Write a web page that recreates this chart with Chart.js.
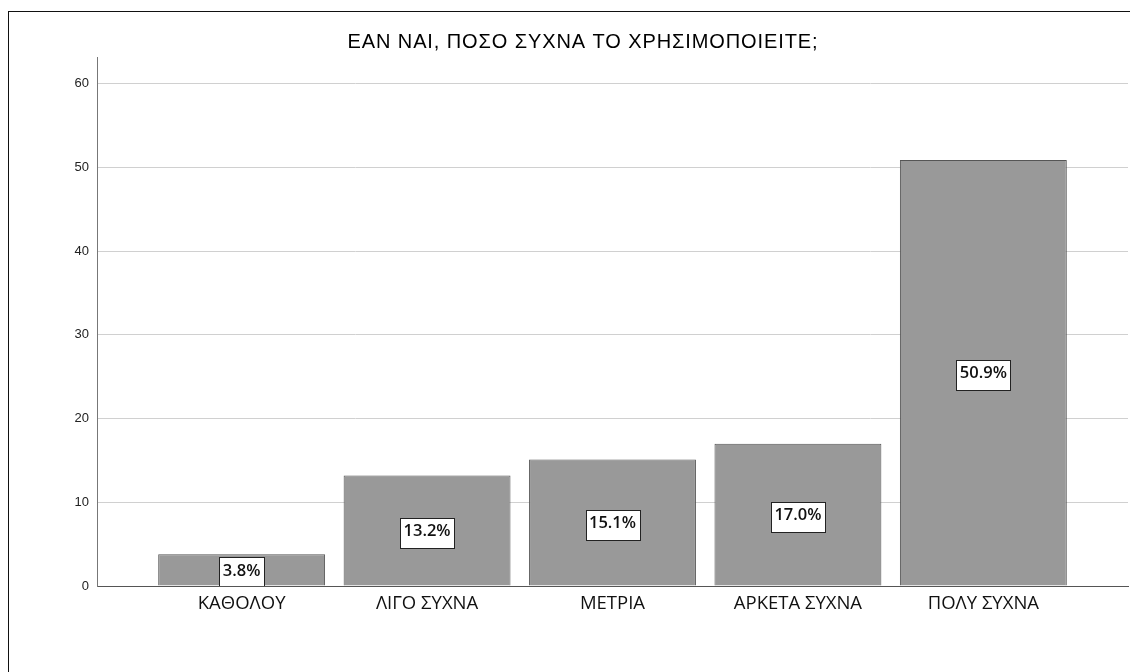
<!DOCTYPE html>
<html>
<head>
<meta charset="utf-8">
<script src="https://cdn.jsdelivr.net/npm/chart.js@4"></script>
<style>
  html, body { margin: 0; padding: 0; background: #fff; overflow: hidden; }
  #wrap { position: relative; width: 1130px; height: 672px; }
  #frame { position: absolute; left: 8px; top: 11px; width: 1200px; height: 700px;
           border-left: 1px solid #111; border-top: 1px solid #111; pointer-events: none; }
</style>
</head>
<body>
<div id="wrap">
  <canvas id="chart" width="1130" height="672"></canvas>
  <div id="frame"></div>
</div>
<script>
const titleText = 'ΕΑΝ ΝΑΙ, ΠΟΣΟ ΣΥΧΝΑ ΤΟ ΧΡΗΣΙΜΟΠΟΙΕΙΤΕ;';
const categories = ['ΚΑΘΟΛΟΥ', 'ΛΙΓΟ ΣΥΧΝΑ', 'ΜΕΤΡΙΑ', 'ΑΡΚΕΤΑ ΣΥΧΝΑ', 'ΠΟΛΥ ΣΥΧΝΑ'];
const percentValues = [3.8, 13.2, 15.1, 17.0, 50.9];
const yTicks = [0, 10, 20, 30, 40, 50, 60];

// title drawn by hand so it can get a little letter spacing
const titlePlugin = {
  id: 'titlePlugin',
  afterDraw(chart) {
    const ctx = chart.ctx;
    ctx.save();
    ctx.font = '20px "Liberation Sans", Arial';
    ctx.letterSpacing = '0.9px';
    ctx.fillStyle = '#000';
    ctx.textAlign = 'center';
    ctx.textBaseline = 'middle';
    ctx.fillText(titleText, 583, 42);
    ctx.restore();
  }
};

// white boxes with the percentage in the middle of each bar
const barLabels = {
  id: 'barLabels',
  afterDatasetsDraw(chart) {
    const ctx = chart.ctx;
    const meta = chart.getDatasetMeta(0);
    const area = chart.chartArea;
    ctx.save();
    ctx.beginPath();
    ctx.rect(area.left, area.top, area.right - area.left, area.bottom - area.top);
    ctx.clip();
    ctx.font = '600 16.5px "Open Sans"';
    ctx.textAlign = 'center';
    ctx.textBaseline = 'middle';
    meta.data.forEach((bar, i) => {
      const txt = percentValues[i].toFixed(1) + '%';
      const w = Math.round(ctx.measureText(txt).width + 7);
      const h = 30;
      const cx = bar.x;
      const cy = (bar.y + bar.base) / 2;
      const x0 = Math.round(cx - w / 2) + 0.5;
      const y0 = Math.round(cy + 2 - h / 2) + 0.5;
      ctx.fillStyle = '#fff';
      ctx.fillRect(x0, y0, w, h);
      ctx.strokeStyle = '#222';
      ctx.lineWidth = 1;
      ctx.strokeRect(x0, y0, w, h);
      ctx.fillStyle = '#111';
      ctx.fillText(txt, cx, cy + 1);
    });
    ctx.restore();
  }
};

new Chart(document.getElementById('chart'), {
  type: 'bar',
  data: {
    datasets: [{
      data: percentValues.map((v, i) => ({ x: i, y: v })),
      backgroundColor: '#999999',
      borderColor: '#555555',
      borderWidth: 1,
      barPercentage: 0.9,
      categoryPercentage: 1.0
    }]
  },
  options: {
    responsive: false,
    devicePixelRatio: 1,
    animation: false,
    layout: { padding: { left: 38, right: 2, top: 57, bottom: 0 } },
    plugins: {
      legend: { display: false },
      tooltip: { enabled: false },
      title: { display: false }
    },
    scales: {
      x: {
        type: 'linear',
        offset: false,
        min: -0.78,
        max: 4.78,
        afterBuildTicks: (scale) => {
          scale.ticks = categories.map((c, i) => ({ value: i }));
        },
        afterFit: (scale) => { scale.height = 86; },
        grid: { display: false, drawTicks: false, offset: false },
        border: { display: true, color: '#555', width: 1 },
        ticks: {
          padding: 7,
          color: '#111',
          font: { family: '"Open Sans"', size: 18.5 },
          maxRotation: 0,
          autoSkip: false,
          callback: (v) => categories[v]
        }
      },
      y: {
        min: 0,
        max: 63.2,
        afterBuildTicks: (scale) => {
          scale.ticks = yTicks.map((v) => ({ value: v }));
        },
        afterFit: (scale) => { scale.width = 59; },
        grid: { color: '#d0d0d0', lineWidth: 1, drawTicks: false },
        border: { display: true, color: '#777', width: 1 },
        ticks: {
          padding: 8,
          color: '#222',
          font: { family: '"Liberation Sans", Arial', size: 13 }
        }
      }
    }
  },
  plugins: [barLabels, titlePlugin]
});
</script>
</body>
</html>
